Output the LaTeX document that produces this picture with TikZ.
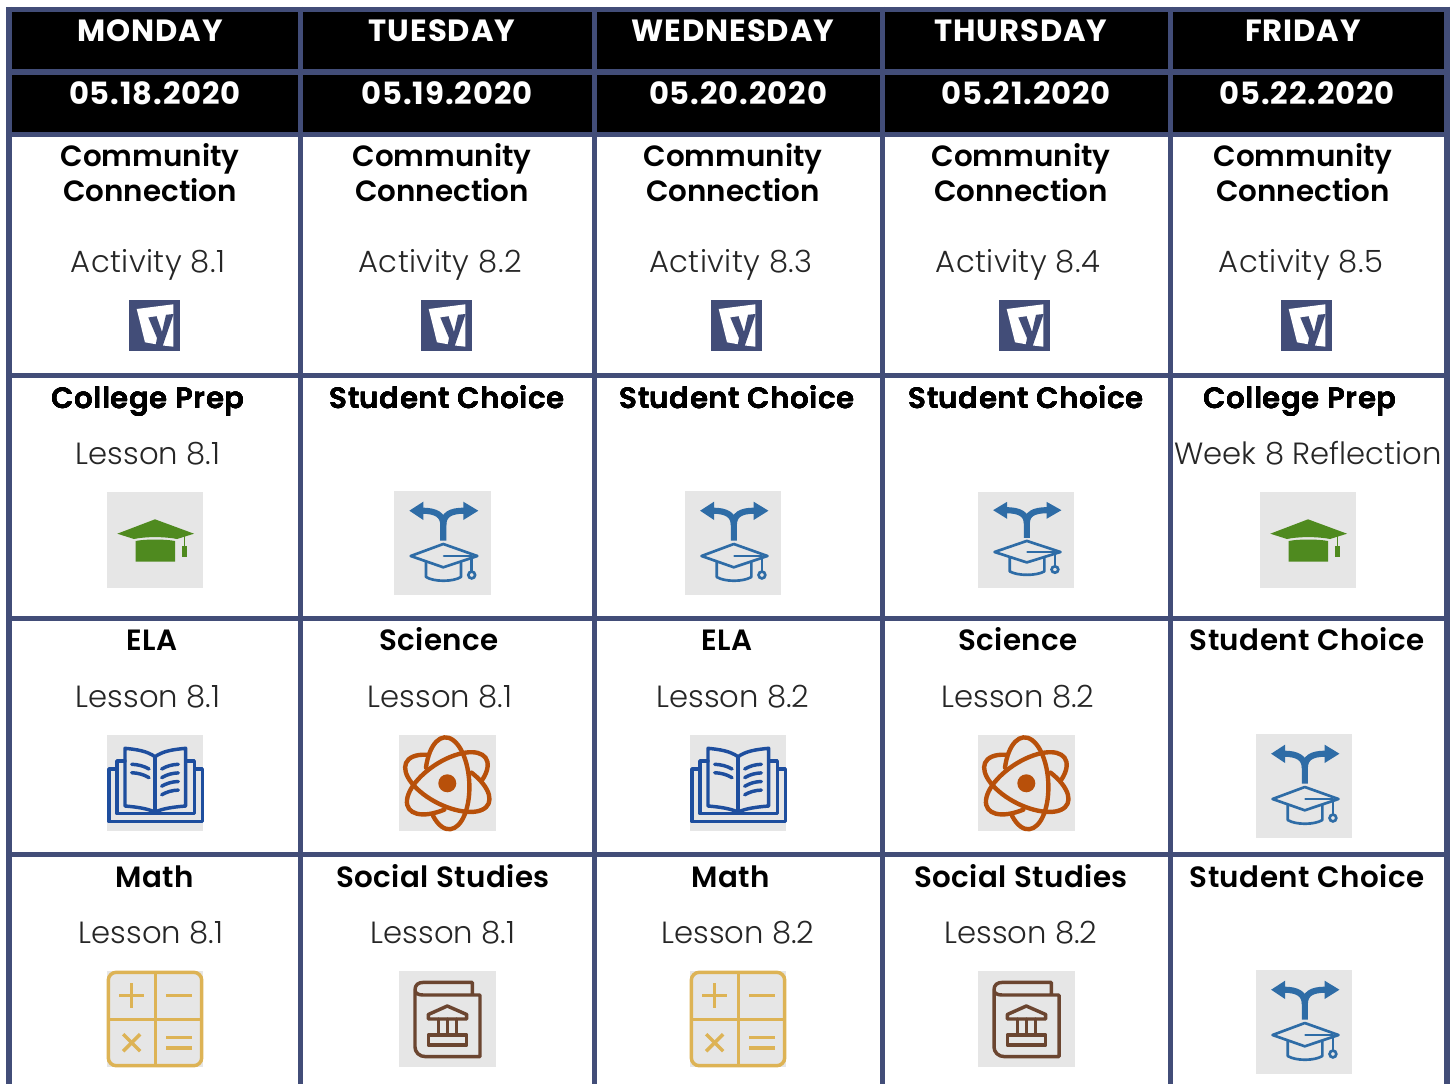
\documentclass[tikz,border=0pt]{standalone}
\usepackage{fontspec}
\newfontfamily\headf[LetterSpace=3]{Poppins Bold}
\newfontfamily\boldf[LetterSpace=1.6]{Poppins SemiBold}
\newfontfamily\commf{Poppins SemiBold}
\newfontfamily\lightf{Poppins Light}
\newfontfamily\actf[LetterSpace=1.5]{Poppins Light}
\definecolor{gridc}{HTML}{424D78}
\definecolor{iconbg}{HTML}{E6E6E6}
\definecolor{choicec}{HTML}{2E6CA6}
\definecolor{capc}{HTML}{4F8A1F}
\definecolor{bookc}{HTML}{1E4E9E}
\definecolor{atomc}{HTML}{B8500A}
\definecolor{calcc}{HTML}{DDB355}
\definecolor{libc}{HTML}{6B4530}
\tikzset{
  gridline/.style={draw=gridc,line width=4.2pt},
  hd/.style={anchor=base,inner sep=0pt,text=white,font=\headf\fontsize{23}{25}\selectfont},
  ttl/.style={anchor=base,inner sep=0pt,text=black,font=\boldf\fontsize{22}{24}\selectfont},
  cmt/.style={anchor=base,inner sep=0pt,text=black,font=\commf\fontsize{22}{24}\selectfont},
  sub/.style={anchor=base,inner sep=0pt,text=black!85,font=\lightf\fontsize{23}{25}\selectfont},
  actv/.style={anchor=base,inner sep=0pt,text=black!85,font=\actf\fontsize{23}{25}\selectfont},
  icn/.style={line cap=round,line join=round},
}
\newcommand{\chicon}[4]{\begin{scope}[shift={(#1,#2)},xscale=#3,yscale=#4]
  \fill[iconbg] (0,0) rectangle (97,104);
  \fill[choicec] (15.3,19.7) -- (29.3,10.7) -- (29.3,29) -- cycle;
  \fill[choicec] (84.3,19.7) -- (69.3,10.7) -- (69.3,29) -- cycle;
  \draw[choicec,line width=4.6pt] (49.3,49.7) -- (49.3,34) .. controls (49.3,24) and (42,19.7) .. (28,19.7);
  \draw[choicec,line width=4.6pt] (49.3,34) .. controls (49.3,24) and (56,19.7) .. (70,19.7);
  \draw[choicec,line width=2pt,icn] (16.7,65) -- (49.3,53) -- (83.3,65) -- (49.3,76.3) -- cycle;
  \draw[choicec,line width=2pt,icn] (50,65) -- (77.7,65) -- (77.7,80);
  \draw[choicec,line width=2pt] (77.7,84) circle[radius=3.4];
  \draw[choicec,line width=2pt,icn] (32,71) -- (32,86) .. controls (40,91) and (59,91) .. (67,86) -- (67,71);
\end{scope}}
\newcommand{\capicon}[2]{\begin{scope}[shift={(#1,#2)}]
  \fill[iconbg] (0,0) rectangle (96,96);
  \fill[capc] (10.3,41.7) -- (48,27.3) -- (87,41.7) -- (70,47) .. controls (58,44.5) and (38,44.5) .. (27,47) -- cycle;
  \fill[capc] (28.7,49) .. controls (38,47) and (58,47) .. (68,49) -- (68,69.7) -- (28.7,69.7) -- cycle;
  \draw[capc,line width=1pt] (77.3,44) -- (77.3,55);
  \fill[capc] (74.7,53.7) rectangle (80,64.7);
\end{scope}}
\newcommand{\bookicon}[2]{\begin{scope}[shift={(#1,#2)}]
  \fill[iconbg] (0,0) rectangle (96,96);
  \begin{scope}[bookc,line width=2.6pt,icn]
  \draw (9,34) -- (2,34) -- (2,86.7) -- (95.3,86.7) -- (95.3,34) -- (88,34);
  \draw (18,26) -- (10,26) -- (10,78.7) -- (87.3,78.7) -- (87.3,26) -- (79,26);
  \draw (48,21.7) .. controls (40,16) and (30,14.5) .. (18,13.3) -- (18,71) .. controls (30,72) and (40,73.5) .. (48,77) .. controls (56,73.5) and (66,72) .. (78.7,71) -- (78.7,13.3) .. controls (66,14.5) and (56,16) .. (48,21.7) -- cycle;
  \draw (48,21.7) -- (48,77);
  \draw (24.7,29.3) .. controls (31,29.5) and (37,31) .. (42,34);
  \draw (24.7,37.7) .. controls (31,38) and (37,39.5) .. (42,42.7);
  \foreach \d in {0,8.6,17.2,25.8} \draw (54.7,34+\d) .. controls (60,31+\d) and (65,29.5+\d) .. (71.3,29.3+\d);
  \end{scope}
\end{scope}}
\newcommand{\atomicon}[2]{\begin{scope}[shift={(#1,#2)}]
  \fill[iconbg] (0,0) rectangle (97,96);
  \foreach \a in {93,213,333} {
    \begin{scope}[shift={(48.3,48.3)},rotate=\a]
    \draw[atomc,line width=3.3pt,line cap=round] (-68.7:46 and 22) arc[start angle=-68.7,end angle=226.4,x radius=46,y radius=22];
    \end{scope}
  }
  \fill[atomc] (48.3,48.3) circle[radius=9];
\end{scope}}
\newcommand{\calcicon}[2]{\begin{scope}[shift={(#1,#2)}]
  \fill[iconbg] (0,0) rectangle (96,96);
  \begin{scope}[calcc,line width=2.6pt]
  \draw[rounded corners=6pt] (1.3,1.3) rectangle (94.7,94.7);
  \draw (48.7,1.3) -- (48.7,94.7);
  \draw (1.3,48.3) -- (94.7,48.3);
  \draw (12,24.7) -- (37.4,24.7);
  \draw (24.7,12) -- (24.7,37.4);
  \draw (59.3,24.7) -- (84.7,24.7);
  \draw (16.2,63.2) -- (33.2,80.2);
  \draw (33.2,63.2) -- (16.2,80.2);
  \draw (59.3,66.7) -- (84.7,66.7);
  \draw (59.3,77) -- (84.7,77);
  \end{scope}
\end{scope}}
\newcommand{\libicon}[2]{\begin{scope}[shift={(#1,#2)}]
  \fill[iconbg] (0,0) rectangle (97,96);
  \begin{scope}[libc,line width=2.6pt,icn]
  \draw (73.3,24) -- (73.3,11.3) -- (25,11.3) .. controls (19,11.3) and (16,14) .. (16,19) .. controls (16,22) and (19,24) .. (24,24) -- (81,24) -- (81,85.7) -- (27,85.7) .. controls (20,85.7) and (16,81) .. (16,76) -- (16,19);
  \draw (48.3,35) -- (67.7,43.5) -- (67.7,48) -- (29.3,48) -- (29.3,43.5) -- cycle;
  \draw (39.3,48) -- (39.3,64);
  \draw (48.3,48) -- (48.3,64);
  \draw (57.3,48) -- (57.3,64);
  \draw (29.3,64) rectangle (67.7,74);
  \end{scope}
\end{scope}}
\newcommand{\ylogo}[2]{\begin{scope}[shift={(#1,#2)}]
  \fill[gridc] (0,0) rectangle (51,51);
  \fill[white] (7.7,9) -- (44.3,4.3) -- (44.3,46.7) -- (34,45.5) -- (16,42.3) -- cycle;
  \fill[gridc] (19.3,17.5) -- (27.5,16.2) -- (33,32) -- (37,14.8) -- (44.6,14) -- (33.5,46.5) -- (26.5,46) -- (28,38) -- cycle;
\end{scope}}
\begin{document}
\begin{tikzpicture}[x=0.75pt,y=-0.75pt]
\useasboundingbox (0,0) rectangle (1451,1084);
\fill[white] (0,0) rectangle (1451,1084);
\fill[black] (9,10) rectangle (1447,135);
\foreach \y in {9.5,72,134.5,375.5,618.5,854.5} \draw[gridline] (6,\y) -- (1449.5,\y);
\foreach \x in {9,300.5,594.5,882.5,1170.5,1447} \draw[gridline] (\x,7) -- (\x,1084);
\foreach \t/\x [count=\i] in {MONDAY/150,TUESDAY/442,WEDNESDAY/733,THURSDAY/1021,FRIDAY/1303}
  \node[hd] (day\i) at (\x,41.5) {\t};
\foreach \t/\x [count=\i] in {05.18.2020/155,05.19.2020/447,05.20.2020/738,05.21.2020/1026,05.22.2020/1307}
  \node[hd] (date\i) at (\x,105) {\t};
\foreach \x [count=\i] in {150,442,733,1021,1303} {
  \node[cmt] (cc\i) at (\x,167) {Community};
  \node[cmt] (cd\i) at (\x,202) {Connection};
}
\foreach \t/\x [count=\i] in {Activity 8.1/148,Activity 8.2/440,Activity 8.3/731,Activity 8.4/1018,Activity 8.5/1301}
  \node[actv] (act\i) at (\x,272.5) {\t};
\foreach \x/\i in {129/1,421/2,711/3,999/4,1281/5} \ylogo{\x}{300}
\foreach \t/\x [count=\i] in {College Prep/148,Student Choice/447,Student Choice/737,Student Choice/1026,College Prep/1300}
  \node[ttl] (ra\i) at (\x,408) {\t};
\node[sub] (la1) at (148,464.5) {Lesson 8.1};
\node[sub] (la5) at (1308,464.5) {Week 8 Reflection};
\capicon{107}{492}
\chicon{394}{491}{1}{1}
\chicon{685}{491}{0.99}{1}
\chicon{978}{492}{0.99}{0.923}
\capicon{1260}{492}
\foreach \t/\x [count=\i] in {ELA/152,Science/439,ELA/727,Science/1018,Student Choice/1307}
  \node[ttl] (rb\i) at (\x,650) {\t};
\foreach \t/\x [count=\i] in {Lesson 8.1/148,Lesson 8.1/440,Lesson 8.2/733,Lesson 8.2/1018}
  \node[sub] (lb\i) at (\x,707.5) {\t};
\bookicon{107}{735}
\atomicon{399}{735}
\bookicon{690}{735}
\atomicon{978}{735}
\chicon{1256}{734}{0.99}{1}
\foreach \t/\x [count=\i] in {Math/155,Social Studies/443,Math/731,Social Studies/1021,Student Choice/1307}
  \node[ttl] (rc\i) at (\x,887) {\t};
\foreach \t/\x [count=\i] in {Lesson 8.1/151,Lesson 8.1/443,Lesson 8.2/738,Lesson 8.2/1021}
  \node[sub] (lc\i) at (\x,943.5) {\t};
\calcicon{107}{971}
\libicon{399}{971}
\calcicon{690}{971}
\libicon{978}{971}
\chicon{1256}{970}{0.99}{1}
\end{tikzpicture}
\end{document}
